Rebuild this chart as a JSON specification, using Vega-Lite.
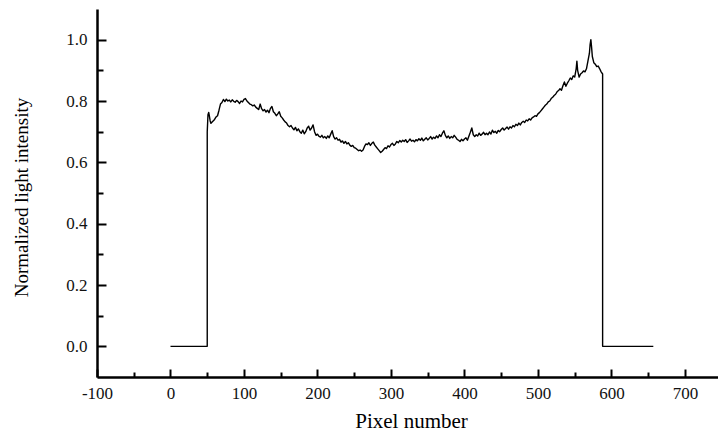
{
  "$schema": "https://vega.github.io/schema/vega-lite/v6.json",
  "width": 621,
  "height": 368,
  "autosize": "none",
  "padding": {"left": 97, "top": 9, "right": 0, "bottom": 55},
  "background": "white",
  "config": {"view": {"stroke": null}},
  "data": {"values": [
    {"pixel": 0, "intensity": 0}, {"pixel": 50, "intensity": 0}, {"pixel": 50, "intensity": 0.70}, {"pixel": 51, "intensity": 0.755}, {"pixel": 52, "intensity": 0.763}, {"pixel": 53, "intensity": 0.75}, {"pixel": 54, "intensity": 0.735}, {"pixel": 55, "intensity": 0.727},
    {"pixel": 56, "intensity": 0.73}, {"pixel": 58, "intensity": 0.735}, {"pixel": 60, "intensity": 0.74}, {"pixel": 62, "intensity": 0.748}, {"pixel": 64, "intensity": 0.752}, {"pixel": 66, "intensity": 0.77}, {"pixel": 68, "intensity": 0.79}, {"pixel": 70, "intensity": 0.795},
    {"pixel": 72, "intensity": 0.805}, {"pixel": 74, "intensity": 0.798}, {"pixel": 76, "intensity": 0.806}, {"pixel": 78, "intensity": 0.8}, {"pixel": 80, "intensity": 0.803}, {"pixel": 82, "intensity": 0.797}, {"pixel": 84, "intensity": 0.804}, {"pixel": 86, "intensity": 0.799},
    {"pixel": 88, "intensity": 0.796}, {"pixel": 90, "intensity": 0.802}, {"pixel": 92, "intensity": 0.798}, {"pixel": 94, "intensity": 0.792}, {"pixel": 96, "intensity": 0.8}, {"pixel": 98, "intensity": 0.797}, {"pixel": 100, "intensity": 0.805}, {"pixel": 102, "intensity": 0.808},
    {"pixel": 104, "intensity": 0.8}, {"pixel": 106, "intensity": 0.795}, {"pixel": 108, "intensity": 0.79}, {"pixel": 110, "intensity": 0.788}, {"pixel": 112, "intensity": 0.784}, {"pixel": 114, "intensity": 0.787}, {"pixel": 116, "intensity": 0.78}, {"pixel": 118, "intensity": 0.776},
    {"pixel": 120, "intensity": 0.772}, {"pixel": 122, "intensity": 0.79}, {"pixel": 124, "intensity": 0.775}, {"pixel": 126, "intensity": 0.768}, {"pixel": 128, "intensity": 0.772}, {"pixel": 130, "intensity": 0.764}, {"pixel": 132, "intensity": 0.77}, {"pixel": 134, "intensity": 0.762},
    {"pixel": 136, "intensity": 0.776}, {"pixel": 138, "intensity": 0.782}, {"pixel": 140, "intensity": 0.765}, {"pixel": 142, "intensity": 0.76}, {"pixel": 144, "intensity": 0.752}, {"pixel": 146, "intensity": 0.758}, {"pixel": 148, "intensity": 0.765}, {"pixel": 150, "intensity": 0.75},
    {"pixel": 152, "intensity": 0.745}, {"pixel": 154, "intensity": 0.738}, {"pixel": 156, "intensity": 0.732}, {"pixel": 158, "intensity": 0.728}, {"pixel": 160, "intensity": 0.72}, {"pixel": 162, "intensity": 0.716}, {"pixel": 164, "intensity": 0.72}, {"pixel": 166, "intensity": 0.712},
    {"pixel": 168, "intensity": 0.706}, {"pixel": 170, "intensity": 0.714}, {"pixel": 172, "intensity": 0.703}, {"pixel": 174, "intensity": 0.709}, {"pixel": 176, "intensity": 0.7}, {"pixel": 178, "intensity": 0.695}, {"pixel": 180, "intensity": 0.705}, {"pixel": 182, "intensity": 0.693},
    {"pixel": 184, "intensity": 0.7}, {"pixel": 186, "intensity": 0.712}, {"pixel": 188, "intensity": 0.718}, {"pixel": 190, "intensity": 0.705}, {"pixel": 192, "intensity": 0.712}, {"pixel": 194, "intensity": 0.722}, {"pixel": 196, "intensity": 0.7}, {"pixel": 198, "intensity": 0.688},
    {"pixel": 200, "intensity": 0.692}, {"pixel": 202, "intensity": 0.685}, {"pixel": 204, "intensity": 0.682}, {"pixel": 206, "intensity": 0.688}, {"pixel": 208, "intensity": 0.68}, {"pixel": 210, "intensity": 0.684}, {"pixel": 212, "intensity": 0.678}, {"pixel": 214, "intensity": 0.686},
    {"pixel": 216, "intensity": 0.68}, {"pixel": 218, "intensity": 0.692}, {"pixel": 220, "intensity": 0.703}, {"pixel": 222, "intensity": 0.684}, {"pixel": 224, "intensity": 0.676}, {"pixel": 226, "intensity": 0.68}, {"pixel": 228, "intensity": 0.672}, {"pixel": 230, "intensity": 0.675},
    {"pixel": 232, "intensity": 0.666}, {"pixel": 234, "intensity": 0.67}, {"pixel": 236, "intensity": 0.662}, {"pixel": 238, "intensity": 0.668}, {"pixel": 240, "intensity": 0.66}, {"pixel": 242, "intensity": 0.664}, {"pixel": 244, "intensity": 0.656}, {"pixel": 246, "intensity": 0.652},
    {"pixel": 248, "intensity": 0.655}, {"pixel": 250, "intensity": 0.648}, {"pixel": 252, "intensity": 0.646}, {"pixel": 254, "intensity": 0.642}, {"pixel": 256, "intensity": 0.638}, {"pixel": 258, "intensity": 0.64}, {"pixel": 260, "intensity": 0.636}, {"pixel": 262, "intensity": 0.64},
    {"pixel": 264, "intensity": 0.652}, {"pixel": 266, "intensity": 0.66}, {"pixel": 268, "intensity": 0.658}, {"pixel": 270, "intensity": 0.664}, {"pixel": 272, "intensity": 0.655}, {"pixel": 274, "intensity": 0.662}, {"pixel": 276, "intensity": 0.666}, {"pixel": 278, "intensity": 0.656},
    {"pixel": 280, "intensity": 0.65}, {"pixel": 282, "intensity": 0.644}, {"pixel": 284, "intensity": 0.638}, {"pixel": 286, "intensity": 0.632}, {"pixel": 288, "intensity": 0.636}, {"pixel": 290, "intensity": 0.642}, {"pixel": 292, "intensity": 0.648}, {"pixel": 294, "intensity": 0.645},
    {"pixel": 296, "intensity": 0.654}, {"pixel": 298, "intensity": 0.65}, {"pixel": 300, "intensity": 0.658}, {"pixel": 302, "intensity": 0.662}, {"pixel": 304, "intensity": 0.655}, {"pixel": 306, "intensity": 0.66}, {"pixel": 308, "intensity": 0.668}, {"pixel": 310, "intensity": 0.664},
    {"pixel": 312, "intensity": 0.671}, {"pixel": 314, "intensity": 0.666}, {"pixel": 316, "intensity": 0.672}, {"pixel": 318, "intensity": 0.668}, {"pixel": 320, "intensity": 0.674}, {"pixel": 322, "intensity": 0.665}, {"pixel": 324, "intensity": 0.67}, {"pixel": 326, "intensity": 0.676},
    {"pixel": 328, "intensity": 0.669}, {"pixel": 330, "intensity": 0.672}, {"pixel": 332, "intensity": 0.667}, {"pixel": 334, "intensity": 0.674}, {"pixel": 336, "intensity": 0.67}, {"pixel": 338, "intensity": 0.677}, {"pixel": 340, "intensity": 0.672}, {"pixel": 342, "intensity": 0.679},
    {"pixel": 344, "intensity": 0.67}, {"pixel": 346, "intensity": 0.675}, {"pixel": 348, "intensity": 0.68}, {"pixel": 350, "intensity": 0.673}, {"pixel": 352, "intensity": 0.678}, {"pixel": 354, "intensity": 0.684}, {"pixel": 356, "intensity": 0.676}, {"pixel": 358, "intensity": 0.682},
    {"pixel": 360, "intensity": 0.678}, {"pixel": 362, "intensity": 0.686}, {"pixel": 364, "intensity": 0.68}, {"pixel": 366, "intensity": 0.69}, {"pixel": 368, "intensity": 0.684}, {"pixel": 370, "intensity": 0.695}, {"pixel": 372, "intensity": 0.703}, {"pixel": 374, "intensity": 0.688},
    {"pixel": 376, "intensity": 0.68}, {"pixel": 378, "intensity": 0.686}, {"pixel": 380, "intensity": 0.678}, {"pixel": 382, "intensity": 0.684}, {"pixel": 384, "intensity": 0.68}, {"pixel": 386, "intensity": 0.688}, {"pixel": 388, "intensity": 0.682}, {"pixel": 390, "intensity": 0.675},
    {"pixel": 392, "intensity": 0.672}, {"pixel": 394, "intensity": 0.668}, {"pixel": 396, "intensity": 0.675}, {"pixel": 398, "intensity": 0.67}, {"pixel": 400, "intensity": 0.676}, {"pixel": 402, "intensity": 0.68}, {"pixel": 404, "intensity": 0.672}, {"pixel": 406, "intensity": 0.685},
    {"pixel": 408, "intensity": 0.698}, {"pixel": 410, "intensity": 0.712}, {"pixel": 412, "intensity": 0.69}, {"pixel": 414, "intensity": 0.684}, {"pixel": 416, "intensity": 0.69}, {"pixel": 418, "intensity": 0.686}, {"pixel": 420, "intensity": 0.695}, {"pixel": 422, "intensity": 0.688},
    {"pixel": 424, "intensity": 0.692}, {"pixel": 426, "intensity": 0.698}, {"pixel": 428, "intensity": 0.69}, {"pixel": 430, "intensity": 0.695}, {"pixel": 432, "intensity": 0.69}, {"pixel": 434, "intensity": 0.699}, {"pixel": 436, "intensity": 0.692}, {"pixel": 438, "intensity": 0.705},
    {"pixel": 440, "intensity": 0.697}, {"pixel": 442, "intensity": 0.701}, {"pixel": 444, "intensity": 0.695}, {"pixel": 446, "intensity": 0.704}, {"pixel": 448, "intensity": 0.7}, {"pixel": 450, "intensity": 0.707}, {"pixel": 452, "intensity": 0.712}, {"pixel": 454, "intensity": 0.705},
    {"pixel": 456, "intensity": 0.71}, {"pixel": 458, "intensity": 0.715}, {"pixel": 460, "intensity": 0.708}, {"pixel": 462, "intensity": 0.716}, {"pixel": 464, "intensity": 0.712}, {"pixel": 466, "intensity": 0.72}, {"pixel": 468, "intensity": 0.716}, {"pixel": 470, "intensity": 0.724},
    {"pixel": 472, "intensity": 0.72}, {"pixel": 474, "intensity": 0.728}, {"pixel": 476, "intensity": 0.722}, {"pixel": 478, "intensity": 0.73}, {"pixel": 480, "intensity": 0.734}, {"pixel": 482, "intensity": 0.73}, {"pixel": 484, "intensity": 0.738}, {"pixel": 486, "intensity": 0.735},
    {"pixel": 488, "intensity": 0.742}, {"pixel": 490, "intensity": 0.738}, {"pixel": 492, "intensity": 0.745}, {"pixel": 494, "intensity": 0.748}, {"pixel": 496, "intensity": 0.752}, {"pixel": 498, "intensity": 0.75}, {"pixel": 500, "intensity": 0.758}, {"pixel": 502, "intensity": 0.762},
    {"pixel": 504, "intensity": 0.768}, {"pixel": 506, "intensity": 0.774}, {"pixel": 508, "intensity": 0.78}, {"pixel": 510, "intensity": 0.786}, {"pixel": 512, "intensity": 0.79}, {"pixel": 514, "intensity": 0.797}, {"pixel": 516, "intensity": 0.8}, {"pixel": 518, "intensity": 0.808},
    {"pixel": 520, "intensity": 0.812}, {"pixel": 522, "intensity": 0.818}, {"pixel": 524, "intensity": 0.822}, {"pixel": 526, "intensity": 0.83}, {"pixel": 528, "intensity": 0.834}, {"pixel": 530, "intensity": 0.84}, {"pixel": 532, "intensity": 0.835}, {"pixel": 534, "intensity": 0.85},
    {"pixel": 536, "intensity": 0.862}, {"pixel": 538, "intensity": 0.848}, {"pixel": 540, "intensity": 0.858}, {"pixel": 542, "intensity": 0.866}, {"pixel": 544, "intensity": 0.875}, {"pixel": 546, "intensity": 0.87}, {"pixel": 548, "intensity": 0.882}, {"pixel": 550, "intensity": 0.878},
    {"pixel": 552, "intensity": 0.905}, {"pixel": 553, "intensity": 0.93}, {"pixel": 554, "intensity": 0.9}, {"pixel": 556, "intensity": 0.878}, {"pixel": 558, "intensity": 0.888}, {"pixel": 560, "intensity": 0.892}, {"pixel": 562, "intensity": 0.898}, {"pixel": 564, "intensity": 0.895},
    {"pixel": 566, "intensity": 0.905}, {"pixel": 568, "intensity": 0.93}, {"pixel": 570, "intensity": 0.955}, {"pixel": 571, "intensity": 0.985}, {"pixel": 572, "intensity": 1.0}, {"pixel": 573, "intensity": 0.975}, {"pixel": 574, "intensity": 0.945}, {"pixel": 576, "intensity": 0.925},
    {"pixel": 578, "intensity": 0.92}, {"pixel": 580, "intensity": 0.912}, {"pixel": 582, "intensity": 0.914}, {"pixel": 584, "intensity": 0.905}, {"pixel": 586, "intensity": 0.895}, {"pixel": 588, "intensity": 0.888}, {"pixel": 588, "intensity": 0}, {"pixel": 657, "intensity": 0}
  ]},
  "mark": {"type": "line", "color": "black", "strokeWidth": 1.4, "strokeJoin": "round"},
  "encoding": {
    "order": {"value": null},
    "x": {
      "field": "pixel", "type": "quantitative",
      "scale": {"domain": [-100, 745], "nice": false, "zero": false},
      "axis": {
        "orient": "bottom",
        "title": "Pixel number",
        "values": [-100, -50, 0, 50, 100, 150, 200, 250, 300, 350, 400, 450, 500, 550, 600, 650, 700],
        "labelExpr": "datum.value % 100 === 0 ? '' + datum.value : ''",
        "grid": false,
        "domainColor": "black", "domainWidth": 2.5,
        "tickColor": "black", "tickWidth": 2,
        "tickSize": {"condition": {"test": "datum.value % 100 !== 0", "value": -5}, "value": -8},
        "labelPadding": 16,
        "labelFont": "Liberation Serif", "labelFontSize": 17, "labelColor": "#111",
        "labelFlush": false, "labelOverlap": false,
        "titleFont": "Liberation Serif", "titleFontSize": 21, "titleFontWeight": "normal", "titleColor": "black",
        "titleX": 314, "titleY": 44, "titleAlign": "center", "titleBaseline": "middle"
      }
    },
    "y": {
      "field": "intensity", "type": "quantitative",
      "scale": {"domain": [-0.1, 1.1], "nice": false, "zero": false},
      "axis": {
        "orient": "left",
        "title": "Normalized light intensity",
        "values": [0, 0.1, 0.2, 0.3, 0.4, 0.5, 0.6, 0.7, 0.8, 0.9, 1.0],
        "labelExpr": "round(datum.value * 10) % 2 === 0 ? format(datum.value, '.1f') : ''",
        "grid": false,
        "domainColor": "black", "domainWidth": 2.5,
        "tickColor": "black", "tickWidth": 2,
        "tickSize": {"condition": {"test": "round(datum.value * 10) % 2 !== 0", "value": -6}, "value": -9},
        "labelPadding": 19,
        "labelFont": "Liberation Serif", "labelFontSize": 17, "labelColor": "#111",
        "labelFlush": false, "labelOverlap": false,
        "titleFont": "Liberation Serif", "titleFontSize": 19, "titleFontWeight": "normal", "titleColor": "black",
        "titleX": -76, "titleY": 188, "titleAngle": -90, "titleAlign": "center", "titleBaseline": "middle"
      }
    }
  }
}
